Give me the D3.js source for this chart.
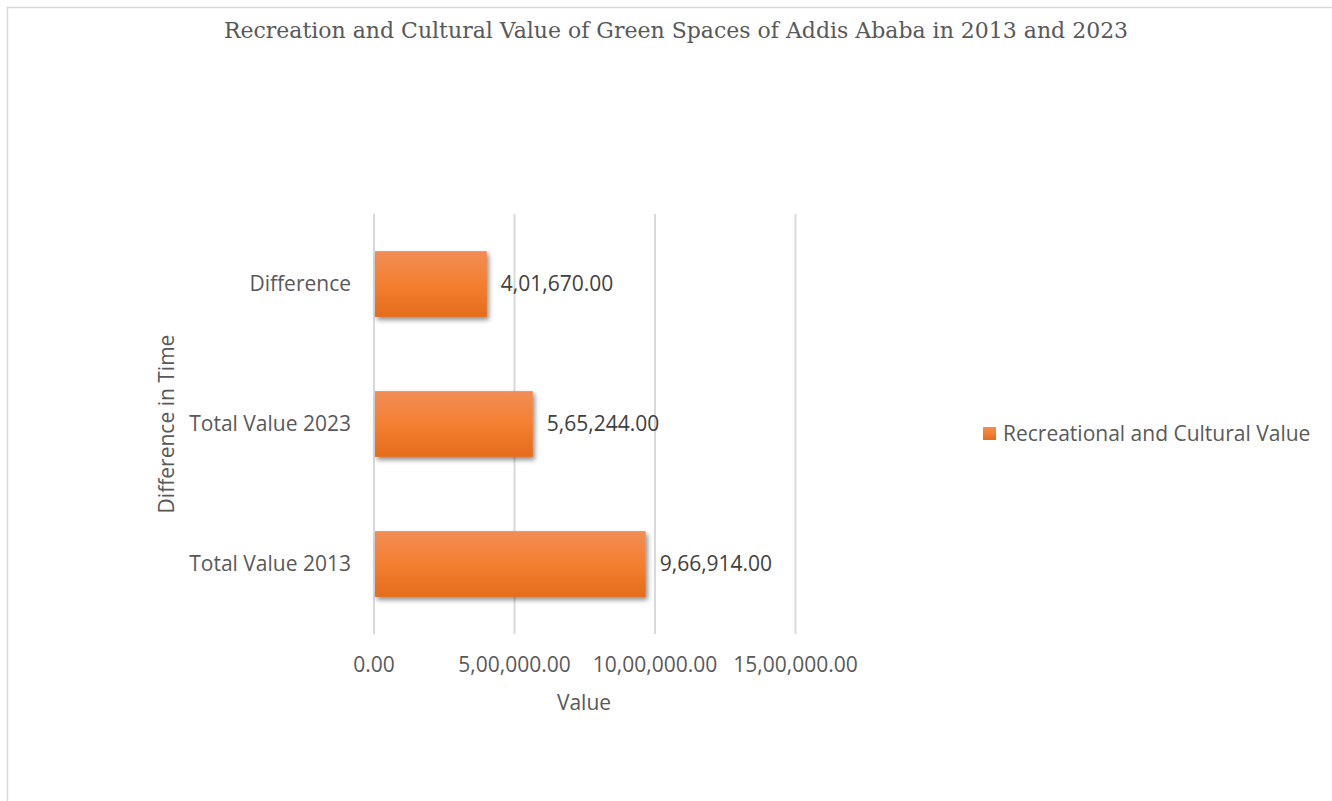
<!DOCTYPE html>
<html>
<head>
<meta charset="utf-8">
<script src="https://cdn.jsdelivr.net/npm/d3@7"></script>
<style>
  html, body { margin: 0; padding: 0; background: #fff; }
  svg { display: block; }
</style>
</head>
<body>
<svg id="chart" width="1332" height="801"></svg>
<script>
// Categories (bottom to top as drawn) and values
const categories = ["Total Value 2013", "Total Value 2023", "Difference"];
const values = [966914, 565244, 401670];
const xTicks = [0, 500000, 1000000, 1500000];
const seriesName = "Recreational and Cultural Value";
const titleText = "Recreation and Cultural Value of Green Spaces of Addis Ababa in 2013 and 2023";

// Indian-style digit grouping with two decimals (e.g. 9,66,914.00)
function indianFormat(v) {
  const [intPart, dec] = v.toFixed(2).split(".");
  let last3 = intPart.slice(-3);
  let rest = intPart.slice(0, -3);
  if (rest.length) {
    rest = rest.replace(/\B(?=(\d{2})+(?!\d))/g, ",");
    return rest + "," + last3 + "." + dec;
  }
  return last3 + "." + dec;
}

const svg = d3.select("#chart");
const textColor = "#595959";
const font = "'Open Sans', sans-serif";
const fs = 21;

// Chart area frame
svg.append("rect")
  .attr("x", 7.5).attr("y", 7.5)
  .attr("width", 1340).attr("height", 810)
  .attr("fill", "#fff")
  .attr("stroke", "#d9d9d9").attr("stroke-width", 1.5);

// Title
svg.append("text")
  .attr("x", 676).attr("y", 38)
  .attr("text-anchor", "middle")
  .attr("font-family", "'DejaVu Serif', serif")
  .attr("font-size", 22)
  .attr("fill", textColor)
  .text(titleText);

const plot = { left: 374, right: 795.5, top: 214, bottom: 634 };

const x = d3.scaleLinear().domain([0, 1500000]).range([plot.left, plot.right]);
const y = d3.scaleBand()
  .domain(categories.slice().reverse())
  .range([plot.top, plot.bottom])
  .paddingInner(0.53).paddingOuter(0.265);

// Gridlines
svg.append("g")
  .selectAll("line")
  .data(xTicks)
  .join("line")
  .attr("x1", d => x(d)).attr("x2", d => x(d))
  .attr("y1", plot.top).attr("y2", plot.bottom)
  .attr("stroke", "#d9d9d9").attr("stroke-width", 2);

// Bar fill and shadow
const defs = svg.append("defs");
const grad = defs.append("linearGradient")
  .attr("id", "barGrad").attr("x1", 0).attr("y1", 0).attr("x2", 0).attr("y2", 1);
grad.append("stop").attr("offset", "0%").attr("stop-color", "#f18d57");
grad.append("stop").attr("offset", "50%").attr("stop-color", "#f47f30");
grad.append("stop").attr("offset", "100%").attr("stop-color", "#e46c1c");

const shadow = defs.append("filter").attr("id", "barShadow")
  .attr("x", "-10%").attr("y", "-20%").attr("width", "130%").attr("height", "160%");
shadow.append("feGaussianBlur").attr("in", "SourceAlpha").attr("stdDeviation", 2.5).attr("result", "blur");
shadow.append("feOffset").attr("in", "blur").attr("dx", 2).attr("dy", 3).attr("result", "off");
shadow.append("feComponentTransfer").attr("in", "off").attr("result", "soft")
  .append("feFuncA").attr("type", "linear").attr("slope", 0.45);
const merge = shadow.append("feMerge");
merge.append("feMergeNode").attr("in", "soft");
merge.append("feMergeNode").attr("in", "SourceGraphic");

const data = categories.map((c, i) => ({ cat: c, val: values[i] }));

svg.append("g")
  .selectAll("rect")
  .data(data)
  .join("rect")
  .attr("x", x(0) + 1)
  .attr("y", d => y(d.cat))
  .attr("width", d => x(d.val) - x(0) - 1)
  .attr("height", y.bandwidth())
  .attr("fill", "url(#barGrad)")
  .attr("filter", "url(#barShadow)");

// Value labels
svg.append("g")
  .selectAll("text")
  .data(data)
  .join("text")
  .attr("x", d => x(d.val) + 14)
  .attr("y", d => y(d.cat) + y.bandwidth() / 2)
  .attr("dy", "0.35em")
  .attr("font-family", font).attr("font-size", fs)
  .attr("fill", "#404040")
  .text(d => indianFormat(d.val));

// Category axis labels
svg.append("g")
  .selectAll("text")
  .data(categories)
  .join("text")
  .attr("x", 351)
  .attr("y", d => y(d) + y.bandwidth() / 2)
  .attr("dy", "0.35em")
  .attr("text-anchor", "end")
  .attr("font-family", font).attr("font-size", fs)
  .attr("fill", textColor)
  .text(d => d);

// Value axis tick labels
svg.append("g")
  .selectAll("text")
  .data(xTicks)
  .join("text")
  .attr("x", d => x(d))
  .attr("y", 665)
  .attr("dy", "0.35em")
  .attr("text-anchor", "middle")
  .attr("font-family", font).attr("font-size", fs)
  .attr("fill", textColor)
  .text(d => indianFormat(d));

// Axis titles
svg.append("text")
  .attr("x", 584).attr("y", 703)
  .attr("dy", "0.35em")
  .attr("text-anchor", "middle")
  .attr("font-family", font).attr("font-size", fs)
  .attr("fill", textColor)
  .text("Value");

svg.append("text")
  .attr("transform", "translate(167,424) rotate(-90)")
  .attr("dy", "0.35em")
  .attr("text-anchor", "middle")
  .attr("font-family", font).attr("font-size", fs)
  .attr("fill", textColor)
  .text("Difference in Time");

// Legend
const legend = svg.append("g").attr("transform", "translate(983,427)");
legend.append("rect")
  .attr("width", 13).attr("height", 13)
  .attr("fill", "url(#barGrad)");
legend.append("text")
  .attr("x", 20).attr("y", 7)
  .attr("dy", "0.35em")
  .attr("font-family", font).attr("font-size", fs)
  .attr("fill", textColor)
  .text(seriesName);
</script>
</body>
</html>
